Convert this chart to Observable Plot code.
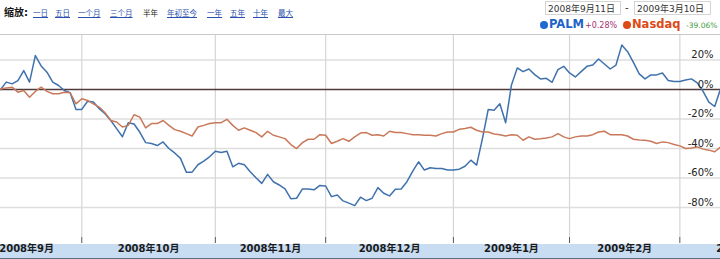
<!DOCTYPE html>
<html>
<head>
<meta charset="utf-8">
<script src="https://cdn.jsdelivr.net/npm/d3@7"></script>
<script src="https://cdn.jsdelivr.net/npm/@observablehq/plot@0.6"></script>
<style>
  html, body { margin: 0; padding: 0; background: #fff; }
  body { width: 720px; height: 259px; position: relative; overflow: hidden;
         font-family: "DejaVu Sans", "Noto Sans CJK SC", sans-serif; }
  .abs { position: absolute; white-space: nowrap; }
  #zoomLabel { left: 4px; top: 4px; font-size: 10px; font-weight: bold; color: #111; }
  .zl { top: 7px; font-size: 7.5px; font-family: "Noto Sans CJK SC", sans-serif; }
  .zl.link { color: #2a4fae; text-decoration: underline; }
  .zl.cur { color: #222; }
  .datebox { top: 1px; height: 14px; border: 1px solid #d4d4d4; font-size: 9px; color: #333;
             line-height: 14px; padding: 0 2px; box-sizing: border-box; }
  #band { left: 0; top: 244px; width: 720px; height: 14px; background: #c8dcf2; }
  #bandLine { left: 0; top: 258px; width: 720px; height: 1px; background: #5d6d82; }
  #chart { left: 0; top: 34px; width: 720px; border-top: 1px solid #c9c9c9; }
  .leg { top: 18px; line-height: 12px; }
  .dot { width: 8px; height: 8px; border-radius: 50%; top: 21px; }
</style>
</head>
<body>
<div id="band" class="abs"></div>
<div id="bandLine" class="abs"></div>
<div id="zoomLabel" class="abs">缩放:</div>
<div id="header"></div>
<div id="chart" class="abs"></div>
<script>
// ---- data (percent change since 2008-09-11, one value per trading day) ----
const palm = [
  0, 5, 3.8, 6, 12.8, 5, 23, 16, 11.7, 5,
  2.7, -0.7, -2.2, -13.5, -13.5, -8, -8.5, -13, -16.4, -21,
  -26.5, -32, -22.5, -23.4, -29, -36, -36.6, -38, -35.5, -40,
  -43, -46.7, -56, -56, -51, -48.5, -45.6, -41.8, -42.7, -41.8,
  -52.4, -50, -51, -55.7, -59.8, -63.6, -57.5, -62.5, -64.7, -67.4,
  -74, -73.7, -67.4, -67.4, -68, -65, -65.4, -72.6, -71.5, -75.5,
  -77, -78.7, -73, -75.3, -73.7, -66.5, -70.3, -72.1, -67.6, -67.4,
  -62.5, -55.3, -49, -54.6, -53, -53.5, -53.5, -54.6, -54.6, -54,
  -52, -47.9, -51.2, -33.3, -13.5, -14, -9.7, -22.5, 3.1, 14.6,
  12.1, 13.9, 10.1, 7.2, 7.6, 4.9, 13.5, 15.7, 11.2, 8.5,
  12.1, 15.7, 16.6, 20.7, 17.3, 13.9, 16.6, 30.1, 25.6, 18.4,
  10.6, 7.2, 9.9, 9.9, 11.2, 6.1, 5.4, 5.4, 6.5, 7.2,
  4.5, -1.3, -8.5, -11.5, 0.28
];
const nasdaq = [
  0.4, 1.1, 1.6, -1.8, -0.7, -5.2, -1.3, 1.6, -1.3, -2.9,
  -2.9, -1.8, -2.2, -9.7, -6.3, -7.4, -9.7, -11.9, -15.7, -21,
  -22, -25.4, -24.3, -17.1, -18.7, -26, -23.1, -23.1, -21, -24.3,
  -27.2, -28.3, -29.9, -31.5, -25.4, -24.3, -23.1, -22.5, -22.5, -20.2,
  -24.3, -27.6, -26, -27.6, -29.2, -32.1, -28.3, -31, -32.1, -33.3,
  -37.3, -40, -36, -33.7, -33.7, -30.6, -31, -36.6, -35.1, -33.3,
  -35.1, -32.1, -29.5, -29.2, -31, -30.6, -31.5, -28.3, -29.2, -29.2,
  -29.9, -30.6, -30.6, -31, -31, -31.5, -29.9, -28.8, -28.8, -27,
  -26.5, -25.6, -27.6, -28.8, -28.8, -30.1, -30.6, -31.5, -30.6, -31,
  -34.4, -32.1, -33.7, -33.3, -32.8, -32.1, -29.9, -32.1, -33.3, -32.1,
  -31.5, -31.5, -30.6, -28.8, -28.3, -30.6, -30.6, -30.6, -31.5, -33.7,
  -34.2, -34.4, -35.1, -36.6, -35.5, -36, -37.3, -38.2, -40, -39.6,
  -38.9, -40.4, -41.1, -42.2, -39.06
];
// trading-day index where each month begins (Sep 2008 ... Apr 2009)
const monthStarts = [-5, 14, 37, 56, 78, 98, 117, 139];
const monthLabels = ["2008年9月", "2008年10月", "2008年11月", "2008年12月", "2009年1月", "2009年2月", "2009年3月"];
const yTicks = [20, 0, -20, -40, -60, -80];
const zoomLinks = ["一日", "五日", "一个月", "三个月", "半年", "年初至今", "一年", "五年", "十年", "最大"];
const zoomCurrent = "半年";
const dateFrom = "2008年9月11日";
const dateTo = "2009年3月10日";
const series = [
  {name: "PALM", change: "+0.28%", color: "#3f72ad", nameColor: "#1d63c8", changeColor: "#a3336f", dot: "#1d6ad0"},
  {name: "Nasdaq", change: "-39.06%", color: "#c9795a", nameColor: "#dc4a17", changeColor: "#3c9a3c", dot: "#dc4a17"}
];

// ---- header (HTML) ----
const header = document.getElementById("header");
const zoomX = [33, 55, 78, 110, 143, 167, 207, 230, 253, 278];
zoomLinks.forEach((t, k) => {
  const s = document.createElement("div");
  s.className = "abs zl " + (t === zoomCurrent ? "cur" : "link");
  s.style.left = zoomX[k] + "px";
  s.textContent = t;
  header.appendChild(s);
});
function addDiv(cls, left, text, style) {
  const d = document.createElement("div");
  d.className = "abs " + cls;
  d.style.left = left + "px";
  if (text != null) d.textContent = text;
  Object.assign(d.style, style || {});
  header.appendChild(d);
  return d;
}
addDiv("datebox", 545, dateFrom, {width: "76px"});
addDiv("", 625, "-", {top: "2px", fontSize: "10px", color: "#333"});
addDiv("datebox", 634, dateTo, {width: "77px"});
// legend
addDiv("dot", 540, null, {background: series[0].dot});
addDiv("leg", 549, series[0].name, {fontSize: "11.5px", fontWeight: "bold", color: series[0].nameColor});
addDiv("leg", 585, series[0].change, {fontSize: "8px", color: series[0].changeColor, top: "20px"});
addDiv("dot", 623, null, {background: series[1].dot});
addDiv("leg", 632, series[1].name, {fontSize: "11.5px", fontWeight: "bold", color: series[1].nameColor});
addDiv("leg", 686, series[1].change, {fontSize: "7.5px", color: series[1].changeColor, top: "20px"});

// ---- chart ----
const rows = [];
palm.forEach((v, i) => rows.push({i, v, s: "PALM"}));
nasdaq.forEach((v, i) => rows.push({i, v, s: "Nasdaq"}));
const labelMid = monthLabels.map((t, k) => ({t, x: (monthStarts[k] + monthStarts[k + 1]) / 2}));
const gridX = monthStarts.slice(1, 7);

const chart = Plot.plot({
  width: 720,
  height: 224,
  marginTop: 0, marginRight: 0, marginLeft: 0, marginBottom: 22,
  style: {fontFamily: "'DejaVu Sans', 'Noto Sans CJK SC', sans-serif", background: "transparent", overflow: "visible"},
  x: {domain: [0, 124], axis: null},
  y: {domain: [-100.3, 36.6], axis: null},
  color: {domain: series.map(d => d.name), range: series.map(d => d.color)},
  marks: [
    Plot.ruleY(yTicks.filter(d => d !== 0), {stroke: "#dedede", strokeWidth: 1.5}),
    Plot.ruleX(gridX, {stroke: "#d6d6d6", strokeWidth: 1.2}),
    Plot.axisX(gridX, {tickSize: 6, stroke: "#555", tickFormat: () => "", label: null}),
    Plot.ruleY([0], {stroke: "#4f3b3b", strokeWidth: 1.3}),
    Plot.line(rows, {x: "i", y: "v", z: "s", stroke: "s", strokeWidth: 1.5}),
    Plot.text(yTicks, {y: d => d, text: d => d + "%", frameAnchor: "right", textAnchor: "end",
      dx: -7, dy: -5, fontSize: 10, fill: "#222"}),
    Plot.text(labelMid, {x: "x", text: "t", frameAnchor: "bottom", dy: 14,
      fontSize: 10, fontWeight: "bold", fill: "#1a1a1a"})
  ]
});
document.getElementById("chart").appendChild(chart);
</script>
</body>
</html>
